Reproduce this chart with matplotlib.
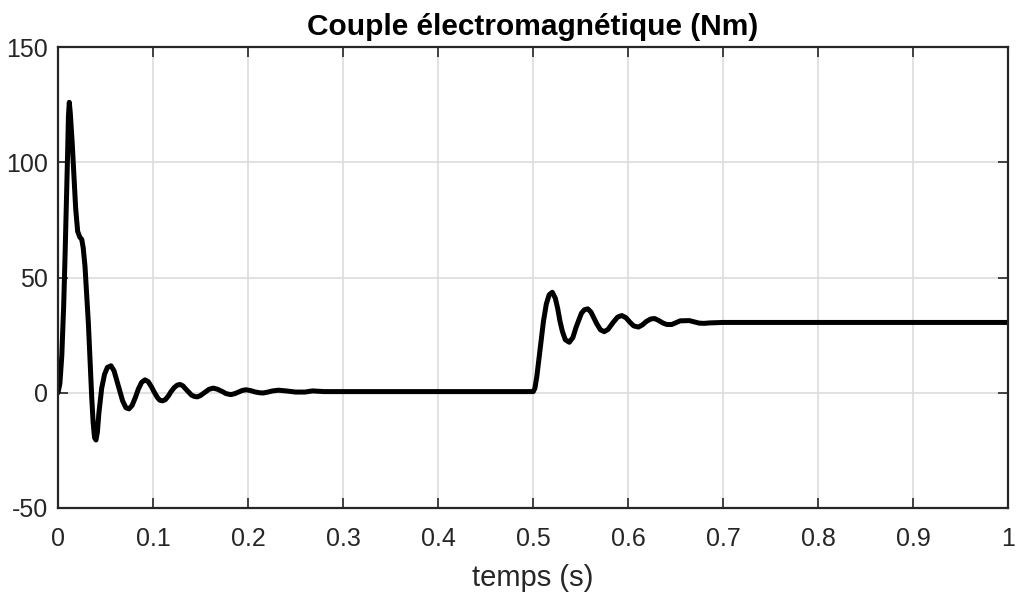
import numpy as np
import matplotlib
matplotlib.use("Agg")
import matplotlib.pyplot as plt

plt.rcParams['font.family'] = ['Liberation Sans', 'DejaVu Sans']
plt.rcParams['axes.unicode_minus'] = False

# Couple électromagnétique (temps en s, couple en Nm)
t_demarrage = [0, 0.002, 0.004, 0.006, 0.0074, 0.009, 0.0102, 0.011, 0.0119, 0.013,
               0.015, 0.017, 0.0186, 0.0207, 0.023, 0.025, 0.0265, 0.0284, 0.030, 0.032,
               0.034, 0.0355, 0.037, 0.0385, 0.040, 0.0415, 0.043, 0.046, 0.049, 0.052,
               0.0558, 0.059, 0.0635, 0.068, 0.0715, 0.0747, 0.078, 0.0815, 0.0845, 0.088,
               0.0916, 0.095, 0.0985, 0.101, 0.1045, 0.107, 0.110, 0.113, 0.1165, 0.119,
               0.1225, 0.1255, 0.1284, 0.1315, 0.1345, 0.1375, 0.1405, 0.1435, 0.1466, 0.150,
               0.155, 0.159, 0.1635, 0.168, 0.173, 0.177, 0.182, 0.186, 0.190, 0.194,
               0.198, 0.203, 0.207, 0.212, 0.216, 0.221, 0.226, 0.232, 0.240, 0.250,
               0.260, 0.268, 0.280, 0.300, 0.350, 0.400, 0.450, 0.500]
c_demarrage = [0, 4, 16, 38, 59, 85, 105, 120, 126, 121,
               108, 92, 80, 70, 67.5, 66.5, 63, 55, 44, 30,
               12, -2, -13, -19.5, -20.5, -17, -9, 2, 8, 11,
               11.7, 9.5, 3, -3.5, -6.5, -7, -5.5, -2, 1.5, 4.5,
               5.6, 4.8, 2.5, 0.5, -2, -3.2, -3.5, -3, -1.2, 0.5,
               2.3, 3.3, 3.6, 3, 1.6, 0.3, -1, -1.6, -1.8, -1.2,
               0.3, 1.5, 2, 1.5, 0.5, -0.4, -0.8, -0.4, 0.3, 1.0,
               1.3, 0.9, 0.4, 0, -0.1, 0.3, 0.8, 1.1, 0.8, 0.3,
               0.3, 0.8, 0.5, 0.5, 0.5, 0.5, 0.5, 0.5]

t_charge = [0.5003, 0.502, 0.504, 0.5056, 0.508, 0.511, 0.514, 0.517, 0.5203, 0.5235,
            0.526, 0.5284, 0.531, 0.534, 0.5382, 0.542, 0.545, 0.5477, 0.551, 0.554,
            0.5576, 0.561, 0.564, 0.567, 0.571, 0.575, 0.579, 0.5845, 0.589, 0.5934,
            0.598, 0.602, 0.606, 0.611, 0.615, 0.6195, 0.624, 0.628, 0.632, 0.637,
            0.641, 0.646, 0.651, 0.655, 0.6645, 0.670, 0.675, 0.680, 0.686, 0.700,
            0.750, 0.800, 1.000]
c_charge = [0.5, 2, 7, 12.5, 21, 31, 38.5, 42.5, 43.6, 41,
            36.5, 31, 26.5, 23, 21.9, 24, 28, 31, 34.5, 36,
            36.4, 35, 32.5, 30, 27.3, 26.5, 27.5, 30.6, 32.8, 33.5,
            32.5, 30.6, 29, 28.5, 29.4, 31, 32, 32.2, 31.4, 30.2,
            29.6, 29.6, 30.5, 31.2, 31.3, 30.7, 30.2, 30.1, 30.3, 30.5,
            30.5, 30.5, 30.5]

temps = np.array(t_demarrage + t_charge)
couple = np.array(c_demarrage + c_charge)

gris = '#262626'

fig = plt.figure(figsize=(10.21, 5.92), dpi=100)
ax = fig.add_axes([0.0568, 0.1419, 0.9305, 0.7787])

ax.plot(temps, couple, color='black', linewidth=3.6,
        solid_joinstyle='round', solid_capstyle='round')

ax.set_xlim(0, 1)
ax.set_ylim(-50, 150)
ax.set_xticks(np.arange(0, 1.01, 0.1))
ax.set_xticklabels(['0', '0.1', '0.2', '0.3', '0.4', '0.5', '0.6', '0.7', '0.8', '0.9', '1'])
ax.set_yticks([-50, 0, 50, 100, 150])

ax.grid(True, color='#dcdcdc', linewidth=1.2)
ax.set_axisbelow(True)
ax.tick_params(direction='in', length=7, width=1.2, colors=gris, labelsize=18,
               top=True, right=True)
ax.tick_params(axis='x', pad=14)
ax.tick_params(axis='y', pad=7)
for s in ax.spines.values():
    s.set_color(gris)
    s.set_linewidth(1.6)

ax.set_title('Couple électromagnétique (Nm)', fontsize=21.5, fontweight='bold', pad=9)
ax.set_xlabel('temps (s)', fontsize=21, color=gris, labelpad=9)

fig.savefig('out.png', dpi=100)
